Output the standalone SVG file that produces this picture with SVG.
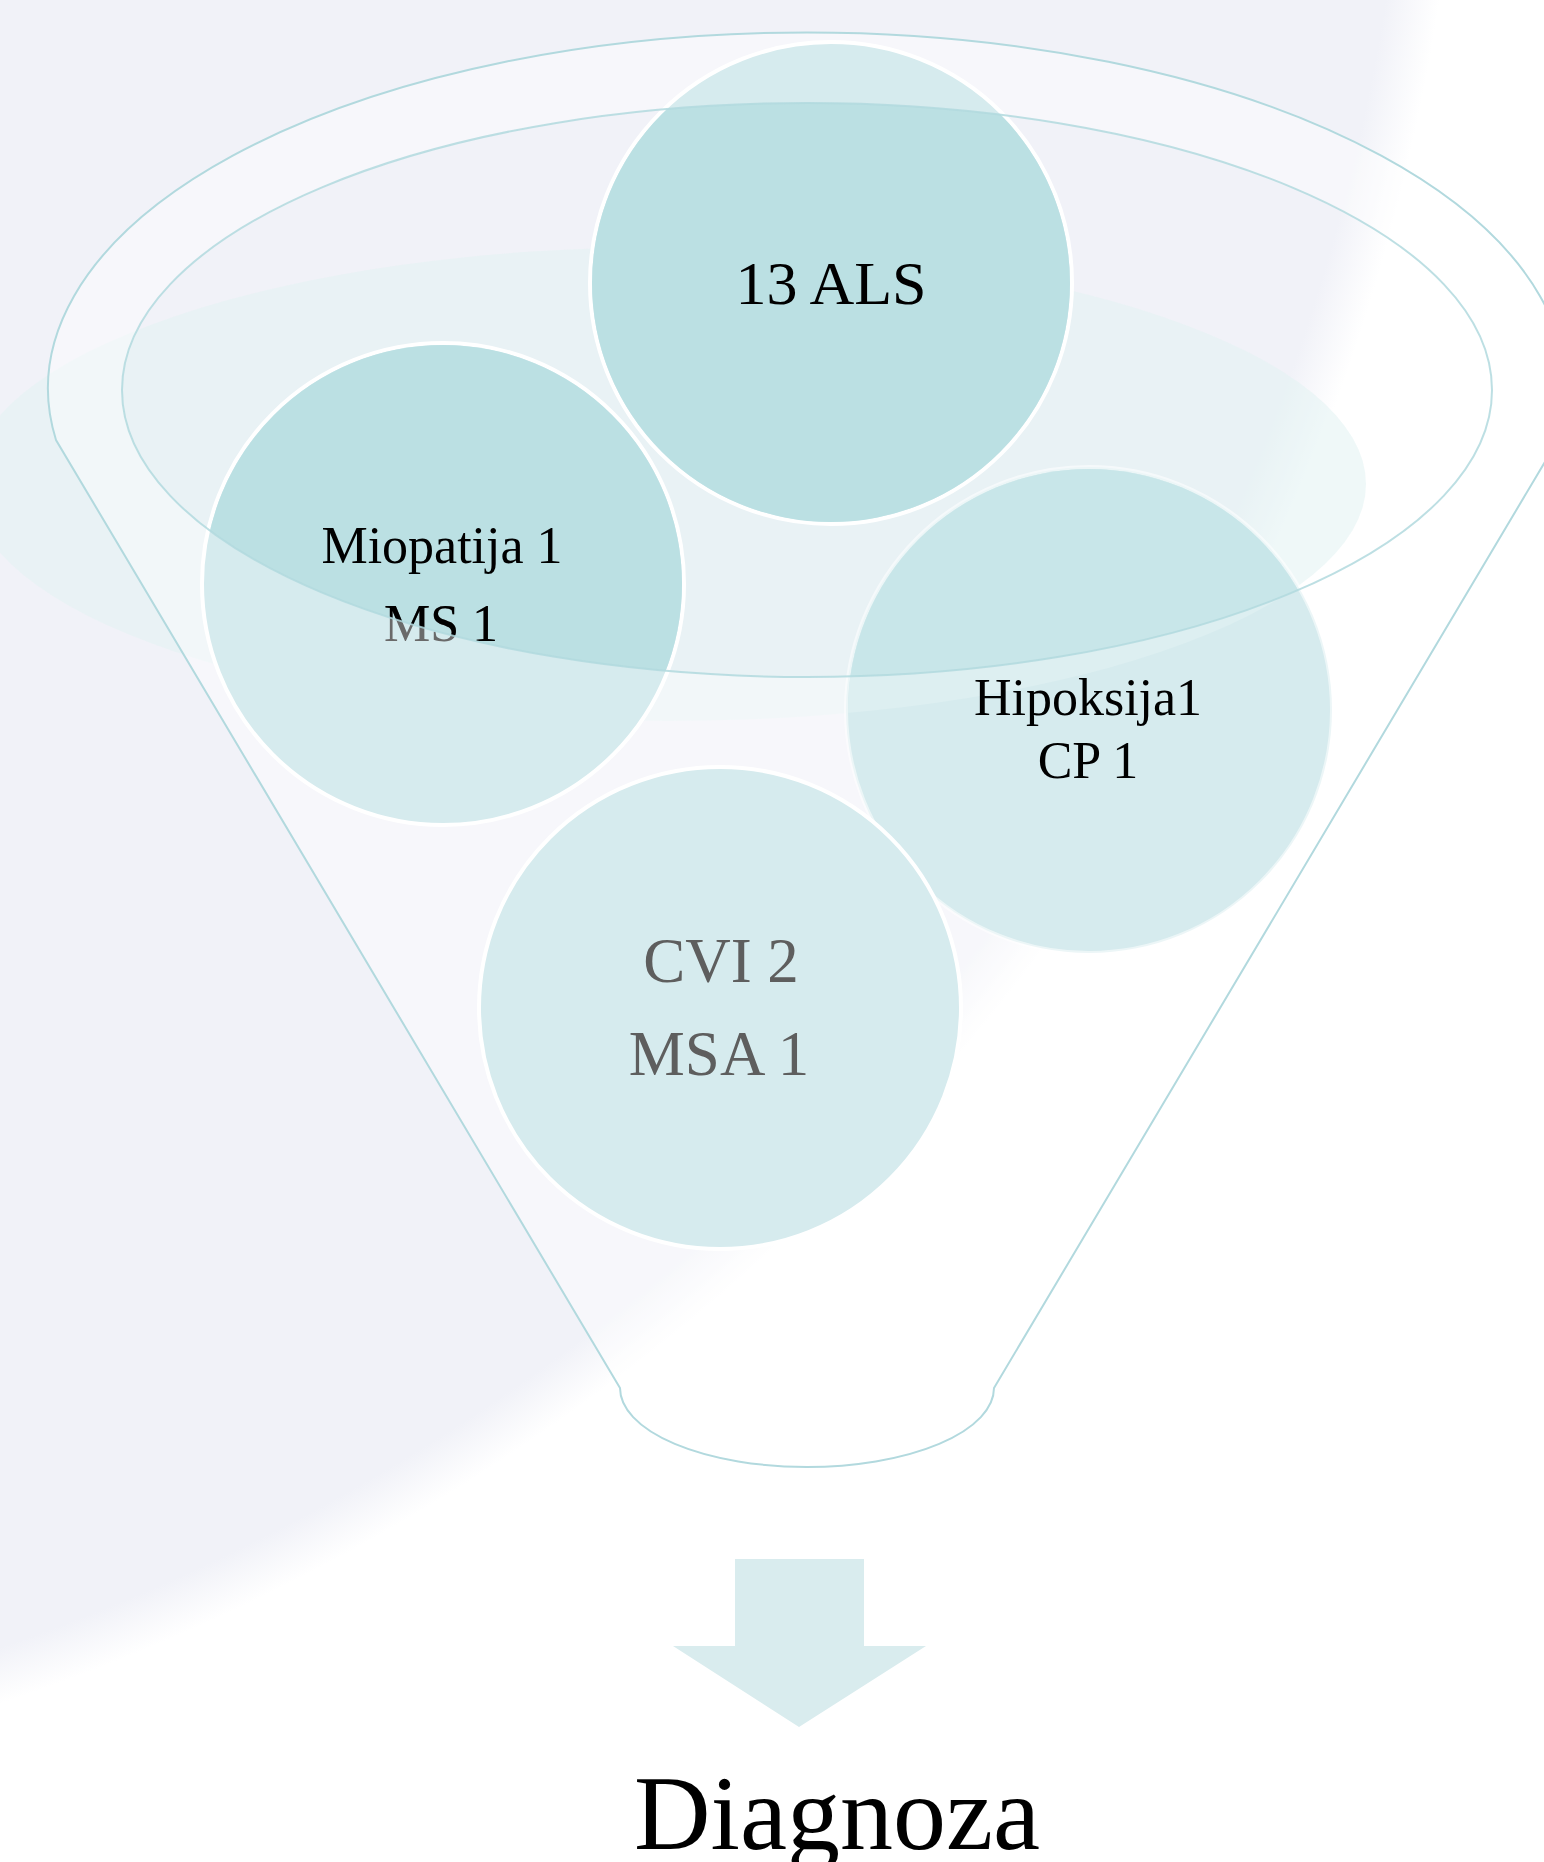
<svg xmlns="http://www.w3.org/2000/svg" width="1544" height="1862" viewBox="0 0 1544 1862">
  <style>
    .lbl { font-family: "Liberation Serif", "Times New Roman", serif; text-anchor: middle; }
    .rim { fill: none; stroke: #b2d9de; stroke-width: 2; }
    .node { stroke: #ffffff; stroke-width: 4; }
  </style>
  <defs>
    <radialGradient id="bgGrad" gradientUnits="userSpaceOnUse" cx="-675" cy="-327" r="2140">
      <stop offset="0.975" stop-color="#f1f2f8"/>
      <stop offset="1" stop-color="#f1f2f8" stop-opacity="0"/>
    </radialGradient>
    <clipPath id="clipInner"><ellipse cx="807" cy="390" rx="685" ry="287"/></clipPath>
    <clipPath id="clipLiquid"><ellipse cx="668" cy="484" rx="698" ry="237"/></clipPath>
  </defs>

  <rect x="0" y="0" width="1544" height="1862" fill="#ffffff"/>
  <circle cx="-675" cy="-327" r="2140" fill="url(#bgGrad)"/>

  <g id="funnel">
    <ellipse id="liquid" cx="668" cy="484" rx="698" ry="237" fill="#e3f3f3" fill-opacity="0.57"/>
    <path d="M 56 440 A 759 356 0 1 1 1558 440 L 994 1388 A 187 79 0 0 1 620 1388 Z M 122 390 A 685 287 0 1 0 1492 390 A 685 287 0 1 0 122 390 Z" fill="#ffffff" fill-opacity="0.42" fill-rule="evenodd"/>
  </g>

  <g id="node-hipoksija">
    <circle cx="1089" cy="710" r="243" fill="#d6ebee" stroke="#ffffff" stroke-opacity="0.55" stroke-width="4"/>
    <circle cx="1089" cy="710" r="241" fill="#ddeff1" clip-path="url(#clipLiquid)"/>
    <circle cx="1089" cy="710" r="241" fill="#c8e6e9" clip-path="url(#clipInner)"/>
    <text class="lbl" x="1088" y="715" font-size="52" fill="#000000">Hipoksija1</text>
    <text class="lbl" x="1088" y="778" font-size="52" fill="#000000">CP 1</text>
  </g>

  <g id="node-cvi">
    <circle class="node" cx="720" cy="1008" r="241" fill="#d6ebee"/>
    <text class="lbl" x="721" y="982" font-size="63" fill="#5e5e5e">CVI 2</text>
    <text class="lbl" x="719" y="1075" font-size="63" fill="#5e5e5e">MSA 1</text>
  </g>

  <g id="node-miopatija">
    <circle class="node" cx="443" cy="584" r="241" fill="#d6ebee"/>
    <circle cx="443" cy="584" r="239" fill="#bbe0e3" clip-path="url(#clipInner)"/>
    <text class="lbl" x="442" y="563" font-size="52" fill="#000000">Miopatija 1</text>
    <text class="lbl" x="441" y="641" font-size="52" fill="#6a6a6a">MS 1</text>
    <text class="lbl" x="441" y="641" font-size="52" fill="#000000" clip-path="url(#clipInner)">MS 1</text>
  </g>

  <g id="node-als">
    <circle class="node" cx="831" cy="283" r="241" fill="#d6ebee"/>
    <circle cx="831" cy="283" r="239" fill="#bbe0e3" clip-path="url(#clipInner)"/>
    <text class="lbl" x="831" y="304" font-size="62" fill="#000000">13 ALS</text>
  </g>

  <g id="rims">
    <path class="rim" d="M 56 440 A 759 356 0 1 1 1558 440 L 994 1388 A 187 79 0 0 1 620 1388 Z"/>
    <ellipse class="rim" cx="807" cy="390" rx="685" ry="287" stroke-opacity="0.85"/>
  </g>

  <g id="connectors">
    <polygon points="735,1559 864,1559 864,1646 926,1646 799,1727 673,1646 735,1646" fill="#d9ecee"/>
  </g>

  <g id="node-diagnoza">
    <text class="lbl" x="837" y="1849" font-size="106" fill="#000000">Diagnoza</text>
  </g>
</svg>
